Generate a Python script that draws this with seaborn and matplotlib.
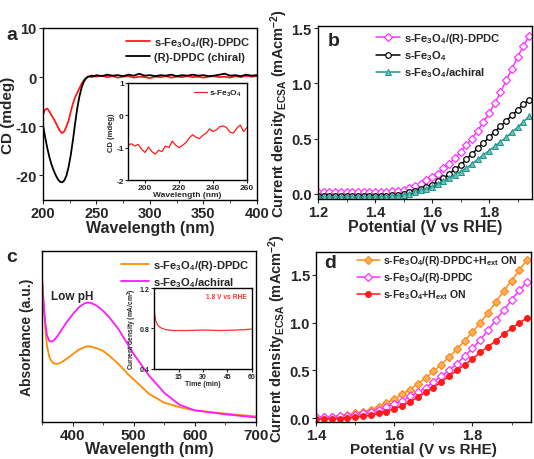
import numpy as np
import pandas as pd
import matplotlib
matplotlib.use("Agg")
import matplotlib.pyplot as plt
import seaborn as sns
from matplotlib.ticker import MultipleLocator

# ---- panel a : CD spectra ----
cd_wl = [200, 202, 204, 206, 208, 210, 212, 214, 216, 218, 220, 222, 224, 226, 228, 230,
         232, 234, 236, 238, 240, 242, 244, 246, 248, 250, 255, 260, 265, 270, 275, 280,
         285, 290, 295, 300, 305, 310, 315, 320, 325, 330, 335, 340, 345, 350, 355, 360,
         365, 370, 375, 380, 385, 390, 395, 400]
cd_red = [-7.6, -6.6, -6.4, -7.0, -7.8, -8.5, -9.3, -10.2, -11.0, -11.4, -11.0, -10.0, -8.8,
          -7.0, -5.4, -4.1, -3.2, -2.3, -1.4, -0.7, -0.2, 0.0, 0.1, 0.0, 0.2, 0.1, 0.3, 0.0,
          0.2, -0.1, 0.1, 0.2, -0.1, 0.1, 0.0, -0.2, 0.1, 0.0, 0.2, -0.1, 0.1, 0.0, 0.2, 0.0,
          0.1, -0.1, 0.1, 0.2, 0.0, 0.1, -0.1, 0.2, 0.0, 0.3, 0.1, 0.2]
cd_black = [-9.8, -12.2, -14.4, -16.3, -17.8, -19.0, -20.0, -20.8, -21.3, -21.4, -21.0, -20.0,
            -18.2, -15.8, -12.8, -9.5, -6.4, -4.0, -2.2, -1.0, -0.3, 0.1, 0.2, 0.3, 0.2, 0.4,
            0.2, 0.5, 0.3, 0.4, 0.2, 0.5, 0.3, 0.7, 0.3, 0.4, 0.2, 0.4, 0.3, 0.5, 0.2, 0.4,
            0.3, 0.5, 0.3, 0.4, 0.2, 0.3, 0.5, 0.7, 0.3, 0.4, 0.2, 0.5, 0.3, 0.4]

ins_wl = list(range(190, 262, 2))
ins_cd = [-0.92, -0.88, -0.95, -0.90, -1.05, -1.15, -0.98, -1.12, -1.20, -1.08, -1.12, -0.95,
          -1.00, -0.80, -0.92, -1.00, -0.93, -0.85, -0.70, -0.60, -0.68, -0.72, -0.62, -0.55,
          -0.42, -0.50, -0.45, -0.35, -0.33, -0.38, -0.52, -0.55, -0.40, -0.30, -0.50, -0.38]

# ---- panel b : LSV ----
pot_b = [round(1.20 + 0.02 * i, 2) for i in range(38)]
j_dpdc = [0.010, 0.010, 0.010, 0.010, 0.011, 0.011, 0.011, 0.012, 0.012, 0.013, 0.013, 0.014,
          0.015, 0.020, 0.025, 0.035, 0.050, 0.070, 0.090, 0.120, 0.150, 0.180, 0.230, 0.270,
          0.320, 0.380, 0.440, 0.500, 0.570, 0.650, 0.730, 0.820, 0.920, 1.030, 1.130, 1.240,
          1.340, 1.430]
j_bare = [-0.020, -0.020, -0.020, -0.020, -0.020, -0.020, -0.020, -0.020, -0.020, -0.020,
          -0.020, -0.020, -0.018, -0.015, -0.010, 0.000, 0.010, 0.020, 0.040, 0.060, 0.080,
          0.110, 0.140, 0.180, 0.220, 0.260, 0.310, 0.360, 0.410, 0.460, 0.510, 0.560, 0.610,
          0.660, 0.710, 0.760, 0.810, 0.850]
j_achiral = [-0.030, -0.030, -0.030, -0.030, -0.030, -0.030, -0.030, -0.030, -0.030, -0.030,
             -0.030, -0.030, -0.028, -0.025, -0.020, -0.010, 0.000, 0.015, 0.030, 0.045, 0.060,
             0.090, 0.110, 0.140, 0.170, 0.200, 0.230, 0.270, 0.310, 0.350, 0.390, 0.430,
             0.470, 0.510, 0.560, 0.600, 0.650, 0.700]

# ---- panel c : UV-vis ----
uv_wl = [350, 352, 355, 358, 362, 366, 370, 375, 380, 390, 400, 410, 420, 425, 430, 440, 450,
         460, 475, 490, 500, 525, 550, 575, 600, 650, 700]
abs_dpdc = [0.854, 0.738, 0.563, 0.447, 0.379, 0.353, 0.342, 0.340, 0.346, 0.369, 0.396, 0.423,
            0.439, 0.443, 0.441, 0.431, 0.416, 0.388, 0.340, 0.282, 0.249, 0.165, 0.113, 0.087,
            0.068, 0.049, 0.033]
abs_achiral = [0.835, 0.718, 0.592, 0.509, 0.474, 0.470, 0.480, 0.501, 0.528, 0.583, 0.629,
               0.670, 0.695, 0.699, 0.697, 0.680, 0.650, 0.612, 0.544, 0.456, 0.398, 0.272,
               0.171, 0.101, 0.068, 0.045, 0.027]

t_min = [0, 0.5, 1, 2, 3, 4, 5, 7, 9, 12, 15, 20, 25, 30, 35, 40, 45, 50, 55, 60]
j_t = [0.98, 0.93, 0.88, 0.84, 0.82, 0.81, 0.80, 0.79, 0.785, 0.78, 0.78, 0.78, 0.782, 0.785,
       0.783, 0.78, 0.782, 0.785, 0.788, 0.795]

# ---- panel d : LSV with field ----
pot_d = [round(1.40 + 0.02 * i, 2) for i in range(28)]
j_dpdc_on = [0.010, 0.010, 0.015, 0.025, 0.035, 0.050, 0.070, 0.090, 0.120, 0.160, 0.200, 0.250,
             0.300, 0.360, 0.420, 0.490, 0.560, 0.640, 0.720, 0.810, 0.900, 1.000, 1.100, 1.220,
             1.330, 1.440, 1.550, 1.660]
j_dpdc_d = j_dpdc[10:]
j_bare_on = [-0.010, -0.010, -0.005, -0.005, 0.000, 0.010, 0.020, 0.030, 0.050, 0.070, 0.100,
             0.130, 0.170, 0.220, 0.270, 0.320, 0.380, 0.440, 0.500, 0.560, 0.620, 0.690,
             0.750, 0.810, 0.880, 0.940, 1.000, 1.050]

sns.set_style("ticks")
plt.rcParams['font.family'] = ['Liberation Sans', 'DejaVu Sans']
plt.rcParams['font.weight'] = 'bold'
plt.rcParams['axes.labelweight'] = 'bold'
plt.rcParams['axes.unicode_minus'] = False
plt.rcParams['mathtext.fontset'] = 'custom'
plt.rcParams['mathtext.rm'] = 'Liberation Sans:bold'
plt.rcParams['mathtext.bf'] = 'Liberation Sans:bold'
plt.rcParams['mathtext.it'] = 'Liberation Sans:bold'
plt.rcParams['mathtext.default'] = 'bf'
plt.rcParams['axes.linewidth'] = 1.0
plt.rcParams['xtick.major.size'] = 3
plt.rcParams['ytick.major.size'] = 3
plt.rcParams['xtick.minor.size'] = 2
plt.rcParams['ytick.minor.size'] = 2

FE = r"s-Fe$_3$O$_4$"
JLAB = r"Current density$_{\mathrm{ECSA}}$ (mAcm$^{-2}$)"
TICK = 10.5
LEG = 8

fig = plt.figure(figsize=(5.34, 4.6), dpi=100)
ax_a = fig.add_axes([0.0805, 0.563, 0.4005, 0.374])
ax_b = fig.add_axes([0.5955, 0.565, 0.4005, 0.376])
ax_c = fig.add_axes([0.0787, 0.0804, 0.4005, 0.3716])
ax_d = fig.add_axes([0.5920, 0.0804, 0.4025, 0.3696])

# panel a
sns.lineplot(x=cd_wl, y=cd_red, color='#ff1a1a', lw=1.3, label=FE + "/(R)-DPDC", ax=ax_a)
sns.lineplot(x=cd_wl, y=cd_black, color='black', lw=1.3, label="(R)-DPDC (chiral)", ax=ax_a)
ax_a.set_xlim(200, 400)
ax_a.set_ylim(-25, 10)
ax_a.set_yticks([-20, -10, 0, 10])
ax_a.set_xticks([200, 250, 300, 350, 400])
ax_a.xaxis.set_minor_locator(MultipleLocator(25))
ax_a.set_xlabel("Wavelength (nm)", fontsize=11.5, labelpad=0)
ax_a.set_ylabel("CD (mdeg)", fontsize=11, labelpad=0)
ax_a.tick_params(labelsize=TICK, pad=1.5)
ax_a.legend(loc='upper right', frameon=False, fontsize=LEG, handlelength=2.2,
            borderaxespad=0.2, labelspacing=0.3, handletextpad=0.3)

ax_ai = fig.add_axes([0.2397, 0.6065, 0.2228, 0.211])
sns.lineplot(x=ins_wl, y=ins_cd, color='#ff1a1a', lw=0.9, label=FE, ax=ax_ai)
ax_ai.set_xlim(190, 260)
ax_ai.set_ylim(-2, 1)
ax_ai.set_xticks([200, 220, 240, 260])
ax_ai.set_yticks([-2, -1, 0, 1])
ax_ai.tick_params(labelsize=6, pad=1, length=2)
ax_ai.set_xlabel("Wavelength (nm)", fontsize=6, labelpad=0)
ax_ai.set_ylabel("CD (mdeg)", fontsize=5.5, labelpad=1)
ax_ai.legend(loc='upper right', frameon=False, fontsize=6, handlelength=1.5,
             borderaxespad=0.2, handletextpad=0.3)

# panel b
sns.lineplot(x=pot_b, y=j_dpdc, color='#ff33ff', lw=1.1, marker='D', markersize=4.2,
             markerfacecolor='white', markeredgecolor='#ff33ff', markeredgewidth=0.9,
             label=FE + "/(R)-DPDC", ax=ax_b)
sns.lineplot(x=pot_b, y=j_bare, color='black', lw=1.1, marker='o', markersize=4,
             markerfacecolor='white', markeredgecolor='black', markeredgewidth=0.9,
             label=FE, ax=ax_b)
sns.lineplot(x=pot_b, y=j_achiral, color='#20968c', lw=1.1, marker='^', markersize=4.5,
             markerfacecolor='#6cc2b8', markeredgecolor='#20968c', markeredgewidth=0.7,
             label=FE + "/achiral", ax=ax_b)
ax_b.set_xlim(1.2, 1.95)
ax_b.set_ylim(-0.05, 1.52)
ax_b.set_xticks([1.2, 1.4, 1.6, 1.8])
ax_b.set_yticks([0.0, 0.5, 1.0, 1.5])
ax_b.xaxis.set_minor_locator(MultipleLocator(0.1))
ax_b.set_xlabel("Potential (V vs RHE)", fontsize=11.5, labelpad=0)
ax_b.set_ylabel(JLAB, fontsize=10.5, labelpad=1)
ax_b.tick_params(labelsize=TICK, pad=1.5)
ax_b.legend(loc='upper left', bbox_to_anchor=(0.24, 1.01), frameon=False, fontsize=LEG,
            handlelength=2.2, borderaxespad=0.2, labelspacing=0.3, handletextpad=0.3)

# panel c
sns.lineplot(x=uv_wl, y=abs_dpdc, color='#ff8c00', lw=1.3, label=FE + "/(R)-DPDC", ax=ax_c)
sns.lineplot(x=uv_wl, y=abs_achiral, color='#ff1aff', lw=1.3, label=FE + "/achiral", ax=ax_c)
ax_c.set_xlim(350, 700)
ax_c.set_ylim(0, 1)
ax_c.set_yticks([])
ax_c.set_xticks([400, 500, 600, 700])
ax_c.xaxis.set_minor_locator(MultipleLocator(50))
ax_c.set_xlabel("Wavelength (nm)", fontsize=11.5, labelpad=-1)
ax_c.set_ylabel("Absorbance (a.u.)", fontsize=10, labelpad=6)
ax_c.tick_params(labelsize=11, pad=1.5)
ax_c.text(400, 0.74, "Low pH", fontsize=8.5, ha='center', va='center')
ax_c.legend(loc='upper right', frameon=False, fontsize=LEG, handlelength=2.6,
            borderaxespad=0.2, labelspacing=0.3, handletextpad=0.3)

ax_ci = fig.add_axes([0.2884, 0.1957, 0.1835, 0.176])
sns.lineplot(x=t_min, y=j_t, color='#ff3030', lw=0.9, ax=ax_ci)
ax_ci.set_xlim(0, 60)
ax_ci.set_ylim(0.4, 1.2)
ax_ci.set_xticks([15, 30, 45, 60])
ax_ci.set_yticks([0.4, 0.8, 1.2])
ax_ci.tick_params(labelsize=5, pad=1, length=2)
ax_ci.set_xlabel("Time (min)", fontsize=5, labelpad=0)
ax_ci.set_ylabel("Current density (mA/cm$^2$)", fontsize=4.8, labelpad=1)
ax_ci.text(0.95, 0.9, "1.8 V vs RHE", color='#ff3030', fontsize=4.8, ha='right',
           va='center', transform=ax_ci.transAxes)

# panel d
sns.lineplot(x=pot_d, y=j_dpdc_on, color='#ff8c1a', lw=1.1, marker='D', markersize=4.2,
             markerfacecolor='#ffb060', markeredgecolor='#ff8c1a', markeredgewidth=0.9,
             label=FE + "/(R)-DPDC+H$_{\\mathrm{ext}}$ ON", ax=ax_d)
sns.lineplot(x=pot_d, y=j_dpdc_d, color='#ff33ff', lw=1.1, marker='D', markersize=4.2,
             markerfacecolor='white', markeredgecolor='#ff33ff', markeredgewidth=0.9,
             label=FE + "/(R)-DPDC", ax=ax_d)
sns.lineplot(x=pot_d, y=j_bare_on, color='#ff1a1a', lw=1.1, marker='o', markersize=4.2,
             markerfacecolor='#ff1a1a', markeredgecolor='#ff1a1a',
             label=FE + "+H$_{\\mathrm{ext}}$ ON", ax=ax_d)
ax_d.set_xlim(1.4, 1.95)
ax_d.set_ylim(-0.04, 1.74)
ax_d.set_xticks([1.4, 1.6, 1.8])
ax_d.set_yticks([0.0, 0.5, 1.0, 1.5])
ax_d.xaxis.set_minor_locator(MultipleLocator(0.1))
ax_d.set_xlabel("Potential (V vs RHE)", fontsize=11, labelpad=0)
ax_d.set_ylabel(JLAB, fontsize=10.5, labelpad=1)
ax_d.tick_params(labelsize=TICK, pad=1.5)
ax_d.legend(loc='upper left', bbox_to_anchor=(0.16, 1.03), frameon=False, fontsize=7.6,
            handlelength=2.2, borderaxespad=0.2, labelspacing=0.3, handletextpad=0.3)

for ax in [ax_a, ax_b, ax_c, ax_d, ax_ai, ax_ci]:
    for s in ax.spines.values():
        s.set_visible(True)
        s.set_color('black')

fig.text(12 / 534, 1 - 35 / 460, "a", fontsize=14, fontweight='bold', ha='center', va='center')
fig.text(334 / 534, 1 - 42 / 460, "b", fontsize=14, fontweight='bold', ha='center', va='center')
fig.text(12 / 534, 1 - 257 / 460, "c", fontsize=14, fontweight='bold', ha='center', va='center')
fig.text(330 / 534, 1 - 263 / 460, "d", fontsize=14, fontweight='bold', ha='center', va='center')

fig.savefig("out.png", dpi=100)
